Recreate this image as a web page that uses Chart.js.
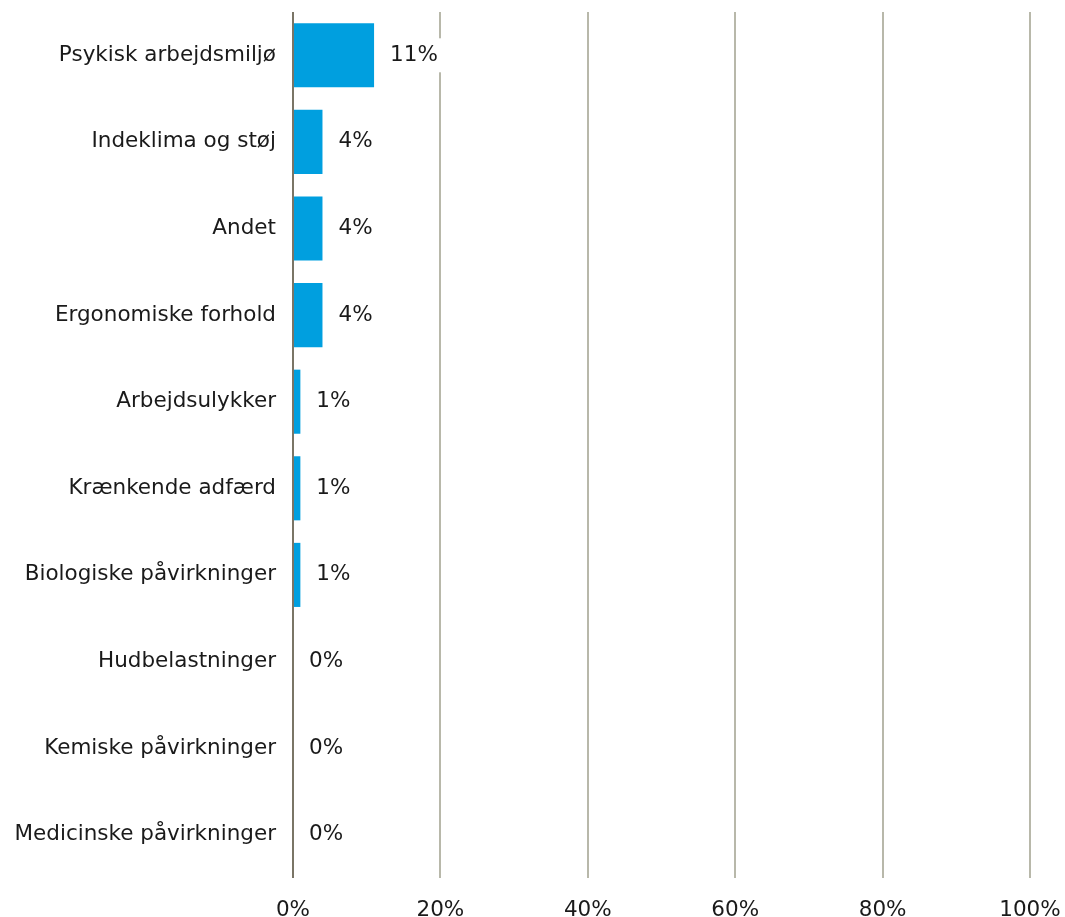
<!DOCTYPE html>
<html>
<head>
<meta charset="utf-8">
<script src="https://cdn.jsdelivr.net/npm/chart.js@4/dist/chart.umd.min.js"></script>
<style>
  html, body { margin: 0; padding: 0; background: #fff; }
  #wrap { width: 1065px; height: 917px; }
</style>
</head>
<body>
<div id="wrap"><canvas id="chart" width="1065" height="917"></canvas></div>
<script>
const categories = [
    'Psykisk arbejdsmiljø',
    'Indeklima og støj',
    'Andet',
    'Ergonomiske forhold',
    'Arbejdsulykker',
    'Krænkende adfærd',
    'Biologiske påvirkninger',
    'Hudbelastninger',
    'Kemiske påvirkninger',
    'Medicinske påvirkninger'
];
const shares = [11, 4, 4, 4, 1, 1, 1, 0, 0, 0];
const xTicks = [0, 20, 40, 60, 80, 100];

const FONT = "'DejaVu Sans', Verdana, sans-serif";
const SIZE = 21.5;

// value labels right of each bar, on a white box so gridlines are hidden behind
const valueLabels = {
    id: 'valueLabels',
    afterDatasetsDraw(chart) {
        const ctx = chart.ctx;
        const meta = chart.getDatasetMeta(0);
        ctx.save();
        ctx.font = SIZE + 'px ' + FONT;
        ctx.textBaseline = 'middle';
        ctx.textAlign = 'left';
        meta.data.forEach((bar, i) => {
            const txt = shares[i] + '%';
            const x = bar.x + 16;
            const w = ctx.measureText(txt).width;
            ctx.fillStyle = '#fff';
            ctx.fillRect(x - 4, bar.y - 17, w + 8, 34);
            ctx.fillStyle = '#1a1a1a';
            ctx.fillText(txt, x, bar.y);
        });
        ctx.restore();
    }
};

new Chart(document.getElementById('chart').getContext('2d'), {
    type: 'bar',
    data: {
        labels: categories,
        datasets: [{
            data: shares,
            backgroundColor: '#009fdf',
            borderWidth: 0,
            barPercentage: 0.74,
            categoryPercentage: 1
        }]
    },
    options: {
        indexAxis: 'y',
        responsive: false,
        animation: false,
        layout: { padding: { top: 12, right: 35, left: 0, bottom: 0 } },
        scales: {
            x: {
                min: 0,
                max: 100,
                afterBuildTicks: (scale) => { scale.ticks = xTicks.map(v => ({ value: v })); },
                afterFit: (scale) => {
                    scale.height = 39;
                    scale.paddingLeft = 0;
                    scale.paddingRight = 0;
                },
                grid: {
                    drawTicks: false,
                    lineWidth: 2,
                    color: (c) => c.index === 0 ? '#7a7566' : '#b8b8aa'
                },
                border: { display: false },
                ticks: {
                    padding: 20,
                    color: '#1a1a1a',
                    font: { family: FONT, size: SIZE },
                    callback: (v) => v + '%'
                }
            },
            y: {
                afterFit: (scale) => {
                    scale.width = 293;
                    scale.paddingTop = 0;
                    scale.paddingBottom = 0;
                },
                grid: { display: false, drawTicks: false },
                border: { display: false },
                ticks: {
                    padding: 17,
                    color: '#1a1a1a',
                    font: { family: FONT, size: SIZE }
                }
            }
        },
        plugins: {
            legend: { display: false },
            tooltip: { enabled: false }
        }
    },
    plugins: [valueLabels]
});
</script>
</body>
</html>
